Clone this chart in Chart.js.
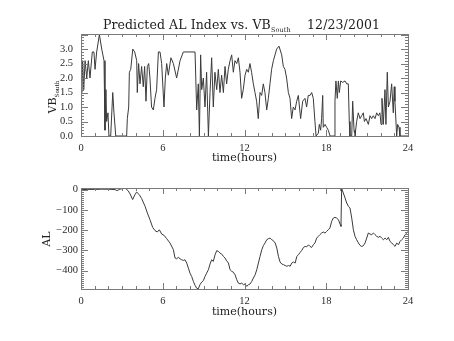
<!DOCTYPE html>
<html><head><meta charset="utf-8">
<script src="https://cdn.jsdelivr.net/npm/chart.js@4/dist/chart.umd.min.js"></script>
<style>
html,body{margin:0;padding:0;background:#fff}
body{width:454px;height:341px;overflow:hidden;position:relative;font-family:"DejaVu Serif",serif;color:#222}
canvas{position:absolute;left:0;top:0}
.t{position:absolute;white-space:nowrap;line-height:1}
sub{font-size:0.52em;vertical-align:0;position:relative;top:0.5em}
</style></head><body>
<canvas id="c1" width="454" height="341"></canvas>
<canvas id="c2" width="454" height="341"></canvas>
<div class="t" id="title" style="left:78px;width:327px;text-align:center;top:19px;font-size:12.5px;letter-spacing:0.1px">Predicted AL Index vs. VB<sub>South</sub>&nbsp;&nbsp;&nbsp;&nbsp;12/23/2001</div>
<div class="t" id="xt1" style="left:81px;width:327px;text-align:center;top:152px;font-size:11px">time(hours)</div>
<div class="t" id="xt2" style="left:81px;width:327px;text-align:center;top:306px;font-size:11px">time(hours)</div>
<div class="t" id="yl1" style="left:52px;top:97px;font-size:11px;transform:translate(-50%,-50%) rotate(-90deg)">VB<sub>South</sub></div>
<div class="t" id="yl2" style="left:46px;top:239px;font-size:11px;transform:translate(-50%,-50%) rotate(-90deg)">AL</div>
<script>
// ---- data ----
const hoursVB = [0.0,0.05,0.12,0.2,0.3,0.42,0.54,0.66,0.83,0.95,1.03,1.15,1.35,1.52,1.69,1.76,1.83,1.88,1.98,2.05,2.18,2.33,2.42,2.55,3.35,3.4,3.5,3.55,3.65,3.8,3.94,4.09,4.13,4.23,4.33,4.45,4.57,4.67,4.77,4.87,4.97,5.06,5.18,5.31,5.43,5.55,5.68,5.8,5.92,6.09,6.19,6.29,6.41,6.6,6.78,7.02,7.27,7.51,8.37,8.49,8.61,8.69,8.78,8.86,8.98,9.1,9.22,9.35,9.47,9.59,9.71,9.83,9.96,10.08,10.2,10.32,10.45,10.57,10.69,10.81,10.94,11.06,11.18,11.3,11.43,11.55,11.67,11.79,11.91,12.04,12.16,12.28,12.4,12.52,12.65,12.77,12.89,13.01,13.14,13.26,13.38,13.5,13.63,13.75,13.87,13.99,14.12,14.36,14.53,14.73,14.85,14.97,15.09,15.22,15.34,15.46,15.58,15.71,15.83,15.95,16.12,16.27,16.44,16.56,16.68,16.81,16.93,17.05,17.17,17.25,17.42,17.49,17.59,17.66,17.74,17.78,17.91,18.03,18.15,18.28,18.59,18.64,18.71,18.81,18.89,18.96,19.06,19.2,19.38,19.5,19.62,19.69,19.74,19.87,19.94,20.04,20.11,20.23,20.35,20.48,20.6,20.72,20.8,20.92,21.09,21.21,21.33,21.45,21.58,21.7,21.82,21.94,22.02,22.09,22.19,22.31,22.38,22.48,22.56,22.68,22.8,22.92,22.99,23.04,23.17,23.24,23.34,23.41,24.0];
const vbSouth = [2.5,1.5,2.6,1.6,2.6,2.0,2.6,2.0,2.9,2.9,2.3,2.9,3.5,3.0,2.6,0.2,1.6,0.5,0.8,0.0,0.0,1.5,0.8,0.0,0.0,0.6,1.0,2.2,2.3,3.0,2.9,2.6,1.5,2.5,1.8,2.4,1.7,2.4,1.2,2.4,2.5,2.0,1.0,0.9,1.3,1.6,2.9,2.9,2.5,1.0,2.0,2.5,2.1,2.7,2.5,2.0,2.6,2.9,2.9,0.9,1.8,0.0,2.8,1.6,2.0,1.0,2.2,0.0,1.5,2.7,1.0,2.2,1.6,2.3,1.5,2.1,1.5,2.4,1.8,2.3,2.6,2.8,2.2,2.6,2.5,2.7,2.2,1.3,1.6,2.1,2.3,2.2,2.5,2.2,1.8,1.5,1.2,0.6,1.5,1.4,1.8,1.5,0.9,1.3,1.8,2.3,2.6,3.0,3.1,2.8,2.4,2.3,2.0,1.5,1.3,0.6,1.0,0.9,1.2,1.4,0.6,1.2,1.3,1.0,1.4,1.4,1.5,1.3,0.5,0.0,0.1,0.4,0.2,0.6,1.4,0.3,0.4,0.3,0.2,0.0,0.0,1.2,1.9,1.3,1.9,1.5,1.9,1.85,1.9,1.8,1.8,0.5,0.0,0.0,1.2,0.2,0.0,0.5,0.8,0.6,0.7,0.8,0.5,0.6,0.4,0.7,0.6,0.7,0.6,0.8,0.7,0.8,0.4,1.3,0.4,1.6,0.4,2.2,1.0,1.2,1.8,0.8,1.7,1.2,0.0,0.4,0.3,0.0,0.0];
const hoursAL = [0.0,0.5,1.0,1.5,2.0,2.5,2.65,2.85,3.1,3.3,3.45,3.6,3.79,3.96,4.08,4.28,4.45,4.7,4.87,5.06,5.26,5.43,5.6,5.75,5.92,6.09,6.29,6.53,6.78,6.9,7.02,7.14,7.27,7.39,7.51,7.63,7.76,7.88,8.0,8.12,8.25,8.37,8.49,8.61,8.73,8.86,8.98,9.1,9.22,9.35,9.47,9.59,9.71,9.84,9.96,10.08,10.2,10.33,10.45,10.57,10.69,10.82,10.94,11.06,11.18,11.31,11.43,11.55,11.67,11.8,11.92,12.04,12.16,12.29,12.41,12.53,12.65,12.78,12.9,13.02,13.14,13.27,13.39,13.51,13.63,13.76,13.88,14.0,14.12,14.25,14.37,14.49,14.61,14.74,14.86,14.98,15.1,15.23,15.35,15.47,15.59,15.72,15.84,15.96,16.08,16.2,16.33,16.45,16.57,16.7,16.8,16.93,17.05,17.17,17.3,17.42,17.54,17.66,17.78,17.91,18.03,18.15,18.27,18.4,18.52,18.64,18.76,18.89,19.03,19.08,19.13,19.25,19.38,19.5,19.62,19.74,19.87,19.99,20.11,20.23,20.36,20.48,20.6,20.72,20.85,20.97,21.09,21.21,21.34,21.46,21.58,21.7,21.83,21.95,22.07,22.19,22.32,22.44,22.56,22.68,22.81,22.93,23.05,23.17,23.3,23.42,23.54,23.66,23.79,23.91,24.0];
const alIndex = [0,1,1,2,2,0,-5,2,6,5,-5,-21,-49,-25,-12,-25,-44,-82,-115,-148,-186,-202,-209,-198,-219,-225,-242,-263,-296,-337,-341,-334,-341,-346,-349,-346,-362,-387,-412,-428,-453,-472,-486,-489,-469,-456,-449,-428,-412,-395,-367,-346,-354,-321,-301,-304,-313,-318,-329,-337,-351,-362,-395,-403,-407,-420,-444,-461,-465,-461,-469,-465,-477,-469,-465,-453,-436,-420,-395,-362,-329,-296,-275,-263,-247,-242,-239,-247,-252,-263,-288,-329,-357,-367,-370,-374,-378,-374,-378,-362,-357,-362,-329,-321,-310,-300,-285,-280,-282,-272,-280,-285,-272,-263,-239,-230,-222,-214,-209,-214,-206,-198,-189,-156,-140,-137,-140,-148,-173,-181,5,-16,-41,-66,-82,-90,-140,-198,-230,-247,-263,-275,-280,-277,-263,-239,-214,-219,-222,-214,-222,-230,-235,-230,-239,-247,-239,-247,-235,-255,-263,-272,-280,-263,-272,-255,-247,-239,-222,-214,-206];
const xTickLabels = ['0','6','12','18','24'];
const vbTickLabels = ['0.0','0.5','1.0','1.5','2.0','2.5','3.0'];
const alTickLabels = ['\u2212400','\u2212300','\u2212200','\u2212100','0'];

// ---- drawing ----
const BOX = '#7a7a7a', INK = '#2a2a2a', LINE = '#3a3a3a';
const tickFont = {family:'Liberation Serif', size:10.5};

function idlBox(opts){
  return {
    id:'idlBox',
    afterDraw(chart){
      const {ctx, chartArea:a, scales:{x,y}} = chart;
      ctx.save();
      ctx.strokeStyle = BOX; ctx.lineWidth = 1;
      ctx.strokeRect(Math.round(a.left)+0.5, Math.round(a.top)+0.5, Math.round(a.right-a.left), Math.round(a.bottom-a.top));
      ctx.beginPath();
      for (let v = 0; v <= 24; v += 1){
        const px = Math.round(x.getPixelForValue(v))+0.5;
        const L = (v % 6 === 0) ? 6 : 3;
        ctx.moveTo(px, a.bottom); ctx.lineTo(px, a.bottom - L);
        ctx.moveTo(px, a.top); ctx.lineTo(px, a.top + L);
      }
      for (let i = 0; ; i++){
        const v = opts.yMinorStart + i*opts.yMinor;
        if (v > y.max + 1e-9) break;
        if (v < y.min - 1e-9) continue;
        const py = Math.round(y.getPixelForValue(v))+0.5;
        const major = Math.abs(v/opts.yMajor - Math.round(v/opts.yMajor)) < 1e-6;
        const L = major ? 7 : 3;
        ctx.moveTo(a.left, py); ctx.lineTo(a.left + L, py);
        ctx.moveTo(a.right, py); ctx.lineTo(a.right - L, py);
      }
      ctx.stroke();
      ctx.restore();
    }
  };
}

function makeChart(id, xs, ys, yMin, yMax, yLabels, cfg){
  const pts = xs.map((h,i)=>({x:h, y:ys[i]}));
  return new Chart(document.getElementById(id), {
    type:'line',
    data:{datasets:[{data:pts, borderColor:LINE, borderWidth:1, pointRadius:0, tension:0, fill:false}]},
    options:{
      responsive:false, animation:false, devicePixelRatio:1,
      layout:{padding:{top:cfg.top, right:46, left:0, bottom:0}},
      plugins:{legend:{display:false}, tooltip:{enabled:false}},
      scales:{
        x:{type:'linear', min:0, max:24,
           afterFit(s){ s.height = cfg.xh; },
           afterBuildTicks(s){ s.ticks = xTickLabels.map(t=>({value:Number(t)})); },
           ticks:{callback:(v)=>String(v), font:tickFont, color:INK, padding:cfg.xpad, maxRotation:0, autoSkip:false},
           grid:{display:false, drawTicks:false}, border:{display:false}},
        y:{type:'linear', min:yMin, max:yMax,
           afterFit(s){ s.width = 81; },
           afterBuildTicks(s){ s.ticks = yLabels.map(t=>({value:Number(t.replace('\u2212','-'))})); },
           ticks:{callback:(v,i)=>yLabels[i], font:tickFont, color:INK, padding:cfg.ypad, autoSkip:false},
           grid:{display:false, drawTicks:false}, border:{display:false}}
      }
    },
    plugins:[idlBox(cfg)]
  });
}

makeChart('c1', hoursVB, vbSouth, 0, 3.52, vbTickLabels,
  {top:34, xh:341-136, xpad:6, ypad:8, yMinor:0.1, yMajor:0.5, yMinorStart:0});
makeChart('c2', hoursAL, alIndex, -490, 8, alTickLabels,
  {top:188, xh:341-289, xpad:6, ypad:3, yMinor:10, yMajor:100, yMinorStart:-480});
</script>
</body></html>
